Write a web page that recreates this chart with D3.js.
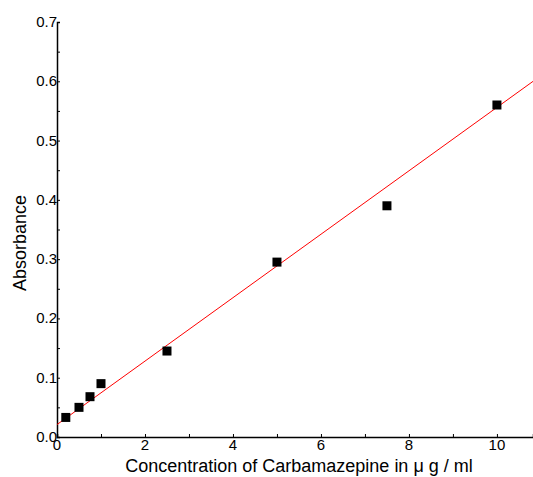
<!DOCTYPE html>
<html>
<head>
<meta charset="utf-8">
<script src="https://cdn.jsdelivr.net/npm/d3@7"></script>
<style>
  body { margin: 0; background: #fff; }
  svg { display: block; }
  text { font-family: "Liberation Sans", Arial, sans-serif; }
</style>
</head>
<body>
<div id="chart"></div>
<script>
const concentration = [0.2, 0.5, 0.75, 1.0, 2.5, 5.0, 7.5, 10.0];
const absorbance = [0.033, 0.050, 0.068, 0.090, 0.145, 0.295, 0.390, 0.560];
const xTicks = [0, 2, 4, 6, 8, 10];
const yTicks = [0.0, 0.1, 0.2, 0.3, 0.4, 0.5, 0.6, 0.7];
// fitted line
const fitSlope = 0.0535;
const fitIntercept = 0.021;

const width = 533;
const height = 477;
const margin = ({top: 22, right: 0, bottom: 40, left: 57});

const x = d3.scaleLinear()
  .domain([0, 10.82])
  .range([margin.left, width - margin.right]);

const y = d3.scaleLinear()
  .domain([0, 0.7])
  .range([height - margin.bottom, margin.top]);

const svg = d3.select("#chart").append("svg")
  .attr("width", width)
  .attr("height", height);

// minor ticks
const xAxis = g => g
  .attr("transform", `translate(0,${y(0)})`)
  .call(d3.axisTop(x).tickValues(d3.range(0, 11, 1)).tickSize(3).tickFormat(""))
  .call(g => g.select(".domain").attr("stroke-width", 1.5));

const yAxis = g => g
  .attr("transform", `translate(${x(0)},0)`)
  .call(d3.axisRight(y).tickValues(d3.range(0, 0.701, 0.05)).tickSize(3).tickFormat(""))
  .call(g => g.select(".domain").attr("stroke-width", 1.5));

svg.append("g").call(xAxis);
svg.append("g").call(yAxis);

svg.append("g")
  .selectAll("text")
  .data(xTicks)
  .join("text")
    .attr("x", d => x(d))
    .attr("y", y(0) + 13)
    .attr("text-anchor", "middle")
    .attr("font-size", 15)
    .text(d => d);

svg.append("g")
  .selectAll("text")
  .data(yTicks)
  .join("text")
    .attr("x", x(0))
    .attr("y", d => y(d) + 5)
    .attr("text-anchor", "end")
    .attr("font-size", 15)
    .text(d => d.toFixed(1));

// regression line
svg.append("line")
  .attr("x1", x(0))
  .attr("y1", y(fitIntercept))
  .attr("x2", x(10.82))
  .attr("y2", y(fitIntercept + fitSlope * 10.82))
  .attr("stroke", "#ff0000")
  .attr("stroke-width", 1);

const s = 9;
svg.append("g")
  .selectAll("rect")
  .data(concentration)
  .join("rect")
    .attr("x", d => x(d) - s / 2)
    .attr("y", (d, i) => y(absorbance[i]) - s / 2)
    .attr("width", s)
    .attr("height", s)
    .attr("fill", "#000");

svg.append("text")
  .attr("x", 299)
  .attr("y", 472)
  .attr("text-anchor", "middle")
  .attr("font-size", 18)
  .text("Concentration of Carbamazepine in μ g / ml");

svg.append("text")
  .attr("transform", `translate(26,243) rotate(-90)`)
  .attr("text-anchor", "middle")
  .attr("font-size", 18)
  .text("Absorbance");
</script>
</body>
</html>
